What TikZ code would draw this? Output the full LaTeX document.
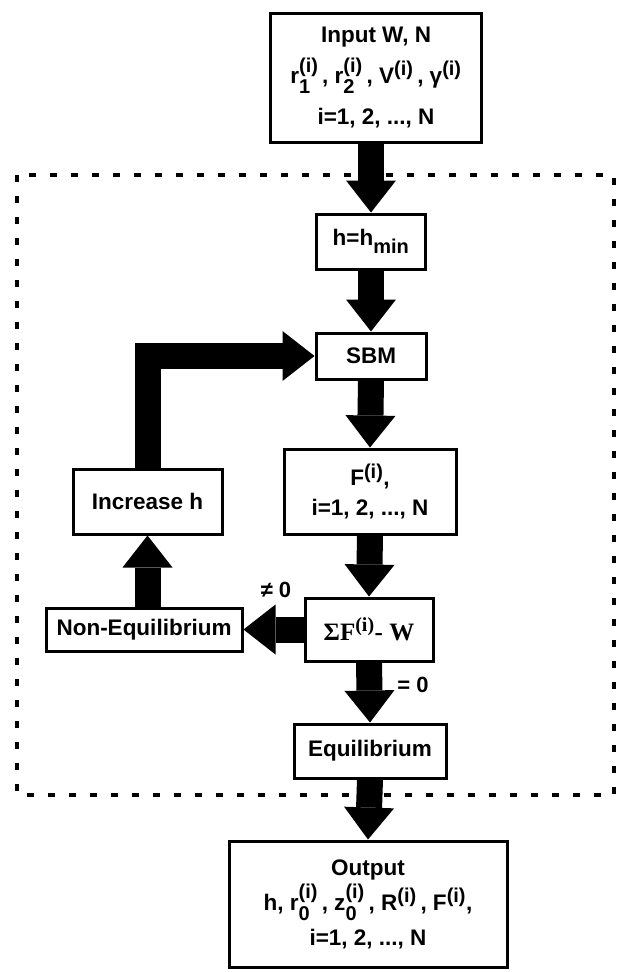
\documentclass[tikz,border=0pt]{standalone}
\usepackage{amsmath}
\usepackage{fontspec}
\setmainfont{Liberation Sans}
\newfontfamily\serifbold{Liberation Serif}
\usepackage{tikz}
\usetikzlibrary{arrows.meta}

\newcommand{\smallsz}{\fontsize{20}{20}\selectfont}
\newcommand{\idx}{\ensuremath{^{\text{\smallsz(i)}}}}
\newcommand{\idxs}[1]{\ensuremath{^{\text{\smallsz(i)}}_{\text{\smallsz#1}}}}

\begin{document}
\begin{tikzpicture}[
  x=1pt, y=-1pt,
  box/.style={rectangle, draw=black, line width=3pt, fill=white, align=center,
              inner sep=0pt, font=\fontsize{22.5}{41}\selectfont\bfseries},
  arr/.style={line width=26pt, -{Triangle[width=50pt, length=32pt, line width=0pt]}},
  lbl/.style={font=\fontsize{22}{24}\selectfont\bfseries}
]
\useasboundingbox (0,0) rectangle (621,972);

\draw[line width=4pt, dash pattern=on 7pt off 14pt] (17,175) rectangle (614,795);

\node[box, minimum width=211pt, minimum height=129pt] (input) at (376,77.5)
  {Input W, N\\ r\idxs{1}\,, r\idxs{2}\,, V\idx\,, γ\idx\\ i=1, 2, ..., N};
\node[box, minimum width=109pt, minimum height=55pt] (hmin) at (371,241.5)
  {h=h$_{\text{\smallsz min}}$};
\node[box, minimum width=110pt, minimum height=46pt] (sbm) at (371,356) {SBM};
\node[box, minimum width=172pt, minimum height=85pt,
      font=\fontsize{22.5}{30}\selectfont\bfseries] (fbox) at (370,491.5)
  {F\idx,\\ i=1, 2, ..., N};
\node[box, minimum width=128pt, minimum height=63pt,
      font=\fontsize{25}{30}\selectfont\bfseries] (sigma) at (369,629.5)
  {\serifbold ΣF\idx- W};
\node[box, minimum width=196pt, minimum height=43pt] (noneq) at (144,629.5)
  {Non-Equilibrium};
\node[box, minimum width=149pt, minimum height=65pt] (inc) at (147.5,501.5)
  {Increase h};
\node[box, minimum width=152pt, minimum height=54pt] (equil) at (370,751)
  {Equilibrium};
\node[box, minimum width=278pt, minimum height=126pt,
      font=\fontsize{22.5}{35}\selectfont\bfseries] (output) at (368,904)
  {Output\\ h, r\idxs{0}\,, z\idxs{0}\,, R\idx\,, F\idx,\\ i=1, 2, ..., N};

\node[lbl] (neq) at (276,590) {≠ 0};
\node[lbl] (eqz) at (413,685) {= 0};

\draw[arr] (input.south -| hmin.north) -- (hmin.north);
\draw[arr] (hmin.south) -- (sbm.north);
\draw[arr] (sbm.south) -- (fbox.north);
\draw[arr] (fbox.south) -- (sigma.north);
\draw[arr] (sigma.west) -- (noneq.east);
\draw[arr] (noneq.north -| inc.south) -- (inc.south);
\draw[arr] (inc.north) |- (sbm.west);
\draw[arr] (sigma.south) -- (equil.north);
\draw[arr] (equil.south) -- (output.north);

\end{tikzpicture}
\end{document}
